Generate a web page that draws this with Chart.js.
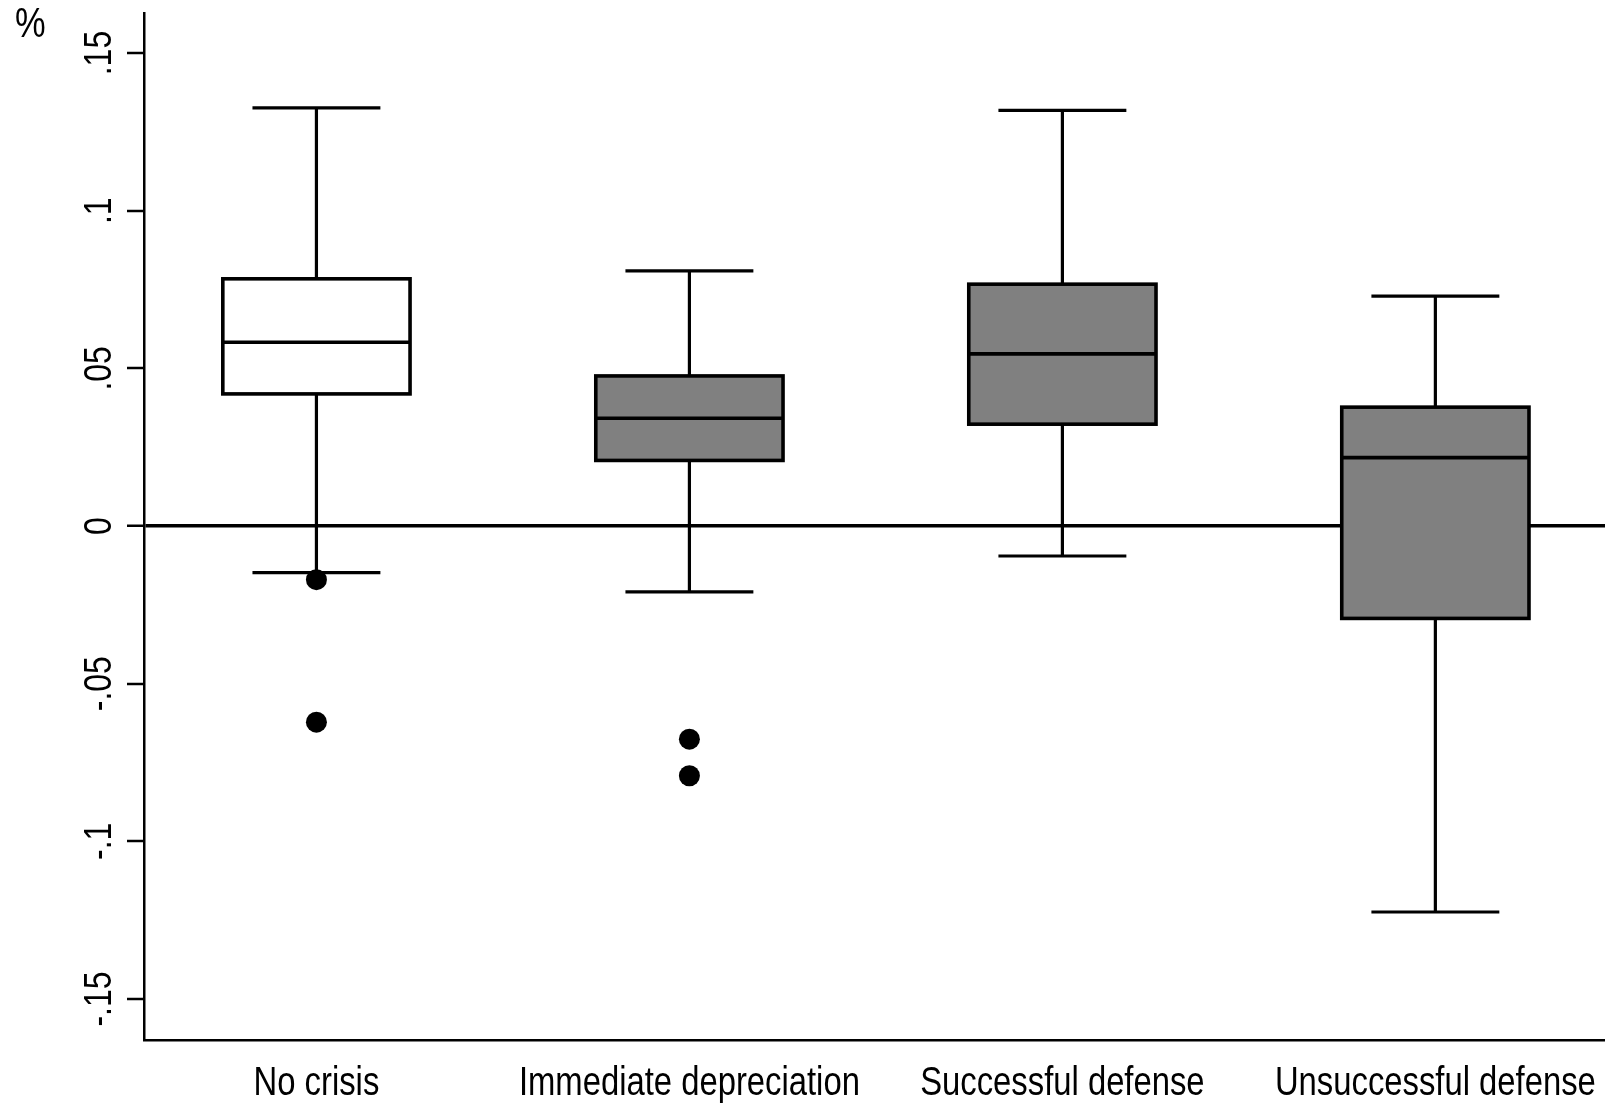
<!DOCTYPE html>
<html>
<head>
<meta charset="utf-8">
<script src="https://cdn.jsdelivr.net/npm/chart.js@4.4.1/dist/chart.umd.min.js"></script>
<style>
  html, body { margin: 0; padding: 0; background: #fff; overflow: hidden; }
  canvas { display: block; }
</style>
</head>
<body>
<canvas id="chartCanvas" width="1605" height="1104"></canvas>
<script>
// box plot summaries per group
const categories = ['No crisis', 'Immediate depreciation', 'Successful defense', 'Unsuccessful defense'];
const positions = [1, 2, 3, 4];
const whiskerLow = [-0.0148, -0.0209, -0.0095, -0.1224];
const quartile1 = [0.0419, 0.0208, 0.0323, -0.0293];
const medians = [0.0583, 0.0342, 0.0546, 0.0217];
const quartile3 = [0.0784, 0.0476, 0.0767, 0.0377];
const whiskerHigh = [0.1326, 0.0809, 0.1318, 0.0729];
const outliers = [[-0.0170, -0.0622], [-0.0676, -0.0792], [], []];

const yTickValues = [-0.15, -0.1, -0.05, 0, 0.05, 0.1, 0.15];
const yTickLabels = ['-.15', '-.1', '-.05', '0', '.05', '.1', '.15'];

const boxColors = ['#ffffff', '#808080', '#808080', '#808080'];
const capHalf = 0.1715;     // whisker cap half-width, in x units
const NARROW = 0.82;        // horizontal squeeze for the narrow lettering

function narrowText(ctx, text, x, y, size, align, angle) {
    ctx.save();
    ctx.translate(x, y);
    if (angle) ctx.rotate(angle);
    ctx.scale(NARROW, 1);
    ctx.font = size + 'px "Liberation Sans", Arial, sans-serif';
    ctx.fillStyle = '#000';
    ctx.textAlign = align;
    ctx.textBaseline = 'alphabetic';
    ctx.fillText(text, 0, 0);
    ctx.restore();
}

function line(ctx, x1, y1, x2, y2) {
    ctx.beginPath();
    ctx.moveTo(x1, y1);
    ctx.lineTo(x2, y2);
    ctx.stroke();
}

// whiskers, caps, box outline and median on top of the floating bars
const boxPlugin = {
    id: 'boxParts',
    afterDatasetsDraw(chart) {
        const ctx = chart.ctx;
        const xs = chart.scales.x;
        const ys = chart.scales.y;
        const bars = chart.getDatasetMeta(0).data;
        ctx.save();
        ctx.strokeStyle = '#000';
        bars.forEach((bar, i) => {
            const cx = xs.getPixelForValue(positions[i]);
            const capL = xs.getPixelForValue(positions[i] - capHalf);
            const capR = xs.getPixelForValue(positions[i] + capHalf);
            const top = ys.getPixelForValue(quartile3[i]);
            const bot = ys.getPixelForValue(quartile1[i]);
            const hi = ys.getPixelForValue(whiskerHigh[i]);
            const lo = ys.getPixelForValue(whiskerLow[i]);

            ctx.lineWidth = 3.2;
            line(ctx, cx, top, cx, hi);
            line(ctx, cx, bot, cx, lo);
            line(ctx, capL, hi, capR, hi);
            line(ctx, capL, lo, capR, lo);

            ctx.lineWidth = 3.6;
            ctx.strokeRect(bar.x - bar.width / 2, top, bar.width, bot - top);
            const med = ys.getPixelForValue(medians[i]);
            line(ctx, bar.x - bar.width / 2, med, bar.x + bar.width / 2, med);
        });
        ctx.restore();
    }
};

// rotated y labels, category names and the unit mark
const labelPlugin = {
    id: 'axisText',
    afterDraw(chart) {
        const ctx = chart.ctx;
        const area = chart.chartArea;
        const xs = chart.scales.x;
        const ys = chart.scales.y;
        yTickValues.forEach((v, i) => {
            narrowText(ctx, yTickLabels[i], area.left - 33.5, ys.getPixelForValue(v), 39, 'center', -Math.PI / 2);
        });
        categories.forEach((c, i) => {
            narrowText(ctx, c, xs.getPixelForValue(positions[i]), area.bottom + 55, 40, 'center', 0);
        });
        narrowText(ctx, '%', area.left - 129, area.top + 24, 42, 'left', 0);
    }
};

const ctx = document.getElementById('chartCanvas').getContext('2d');

new Chart(ctx, {
    type: 'bar',
    data: {
        datasets: [
            {
                type: 'bar',
                data: categories.map((c, i) => ({ x: positions[i], y: [quartile1[i], quartile3[i]] })),
                backgroundColor: boxColors,
                borderWidth: 0,
                barPercentage: 0.502,
                categoryPercentage: 1
            },
            {
                type: 'scatter',
                data: outliers.flatMap((vals, i) => vals.map(v => ({ x: positions[i], y: v }))),
                backgroundColor: '#000',
                borderWidth: 0,
                pointRadius: 10.5
            }
        ]
    },
    options: {
        responsive: false,
        animation: false,
        devicePixelRatio: 1,
        layout: { autoPadding: false, padding: { top: 13, right: 0, bottom: 0, left: 0 } },
        plugins: {
            legend: { display: false },
            tooltip: { enabled: false }
        },
        scales: {
            x: {
                type: 'linear',
                offset: false,
                min: 0.5377,
                max: 4.4548,
                afterBuildTicks: s => { s.ticks = positions.map(v => ({ value: v })); },
                grid: { display: false, offset: false },
                ticks: { display: false },
                border: { display: true, color: '#000', width: 2.5 },
                afterFit: s => { s.height = 64; }
            },
            y: {
                type: 'linear',
                min: -0.163,
                max: 0.1627,
                ticks: { display: false },
                afterBuildTicks: s => { s.ticks = yTickValues.map(v => ({ value: v })); },
                grid: {
                    drawOnChartArea: true,
                    drawTicks: true,
                    tickLength: 17,
                    tickColor: '#000',
                    tickWidth: 2.5,
                    color: c => (c.tick && c.tick.value === 0 ? '#000' : 'rgba(0,0,0,0)'),
                    lineWidth: c => (c.tick && c.tick.value === 0 ? 3.5 : 0)
                },
                border: { display: true, color: '#000', width: 2.5 },
                afterFit: s => { s.width = 144; }
            }
        }
    },
    plugins: [boxPlugin, labelPlugin]
});
</script>
</body>
</html>
